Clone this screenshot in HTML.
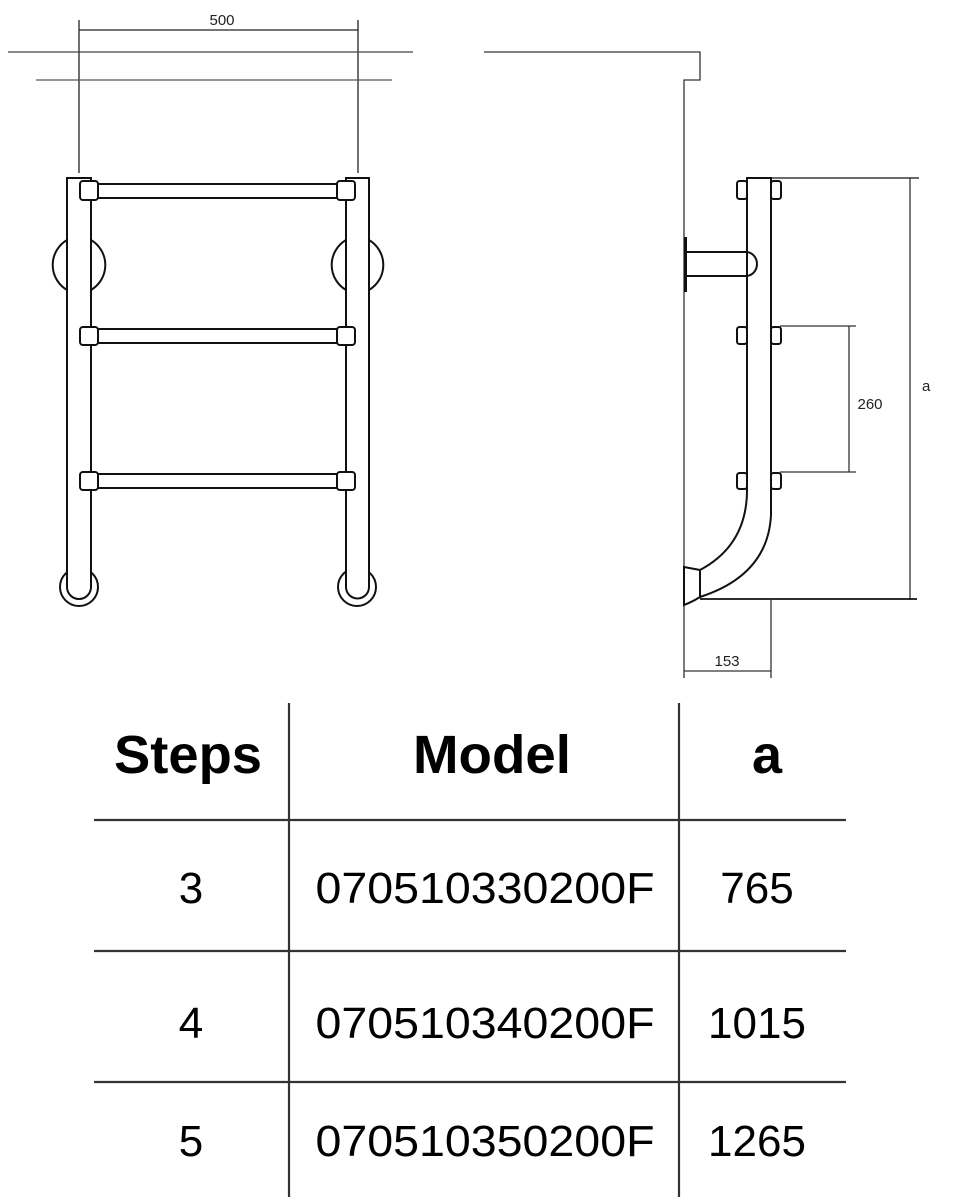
<!DOCTYPE html>
<html><head><meta charset="utf-8"><style>
html,body{margin:0;padding:0;background:#fff;}
svg{display:block;}
text{font-family:"Liberation Sans",sans-serif;}
</style></head><body>
<svg width="957" height="1200" viewBox="0 0 957 1200" xmlns="http://www.w3.org/2000/svg">
<g fill="none" stroke="#222" stroke-width="1.3">
<line x1="79" y1="30" x2="358" y2="30"/>
<line x1="79" y1="20" x2="79" y2="173"/>
<line x1="358" y1="20" x2="358" y2="173"/>
<line x1="8" y1="52" x2="413" y2="52" stroke="#444"/>
<line x1="36" y1="80" x2="392" y2="80" stroke="#555"/>
</g>
<text x="222" y="25" font-size="15" text-anchor="middle" fill="#222">500</text>
<g fill="none" stroke="#111" stroke-width="2">
<path d="M67 240 A29 29 0 0 0 67 290"/>
<path d="M91 240 A29 29 0 0 1 91 290"/>
<path d="M346 240 A29 29 0 0 0 346 290"/>
<path d="M369 240 A29 29 0 0 1 369 290"/>
<circle cx="79" cy="587" r="19"/>
<circle cx="357" cy="587" r="19"/>
<path d="M67 587 L67 178 L91 178 L91 587 A12 12 0 0 1 67 587" fill="#fff"/>
<path d="M346 587 L346 178 L369 178 L369 587 A11.5 11.5 0 0 1 346 587" fill="#fff"/>
<g fill="#fff">
<rect x="96" y="184" width="241" height="14"/>
<rect x="80" y="181" width="18" height="19" rx="3"/>
<rect x="337" y="181" width="18" height="19" rx="3"/>
<rect x="96" y="329" width="241" height="14"/>
<rect x="80" y="327" width="18" height="18" rx="3"/>
<rect x="337" y="327" width="18" height="18" rx="3"/>
<rect x="96" y="474" width="241" height="14"/>
<rect x="80" y="472" width="18" height="18" rx="3"/>
<rect x="337" y="472" width="18" height="18" rx="3"/>
</g>
</g>
<g fill="none" stroke="#333" stroke-width="1.3">
<polyline points="484,52 700,52 700,80 684,80 684,678"/>
<line x1="747" y1="178" x2="919" y2="178" stroke="#111"/>
<line x1="910" y1="178" x2="910" y2="600"/>
<line x1="700" y1="599" x2="917" y2="599" stroke="#111" stroke-width="1.8"/>
<line x1="780" y1="326" x2="856" y2="326"/>
<line x1="780" y1="472" x2="856" y2="472"/>
<line x1="849" y1="326" x2="849" y2="472"/>
<line x1="771" y1="599" x2="771" y2="678"/>
<line x1="684" y1="671" x2="771" y2="671"/>
</g>
<text x="922" y="391" font-size="15" fill="#222">a</text>
<text x="870" y="409" font-size="15" text-anchor="middle" fill="#222">260</text>
<text x="727" y="666" font-size="15" text-anchor="middle" fill="#222">153</text>
<g fill="none" stroke="#111" stroke-width="2">
<path d="M747 178 L771 178 L771 515 Q768 575 700 597 L700 570 Q747 545 747 490 Z" fill="#fff"/>
<path d="M684 567 L700 570 L700 597 Q692 602 684 605 Z" fill="#fff"/>
<rect x="737" y="181" width="10" height="18" rx="2.5"/>
<rect x="771" y="181" width="10" height="18" rx="2.5"/>
<rect x="737" y="327" width="10" height="17" rx="2.5"/>
<rect x="771" y="327" width="10" height="17" rx="2.5"/>
<rect x="737" y="473" width="10" height="16" rx="2.5"/>
<rect x="771" y="473" width="10" height="16" rx="2.5"/>
<path d="M687 252 L746 252 A11 12 0 0 1 746 276 L687 276"/>
<line x1="685.5" y1="237" x2="685.5" y2="292" stroke-width="3"/>
</g>
<g stroke="#333" stroke-width="2.2">
<line x1="289" y1="703" x2="289" y2="1197"/>
<line x1="679" y1="703" x2="679" y2="1197"/>
<line x1="94" y1="820" x2="846" y2="820"/>
<line x1="94" y1="951" x2="846" y2="951"/>
<line x1="94" y1="1082" x2="846" y2="1082"/>
</g>
<g fill="#000" text-anchor="middle">
<text x="188" y="773" font-size="54" font-weight="bold" textLength="148" lengthAdjust="spacingAndGlyphs">Steps</text>
<text x="492" y="773" font-size="54" font-weight="bold" textLength="158" lengthAdjust="spacingAndGlyphs">Model</text>
<text x="767" y="773" font-size="54" font-weight="bold">a</text>
<g font-size="44">
<text x="191" y="903">3</text>
<text x="485" y="903" textLength="339" lengthAdjust="spacingAndGlyphs">070510330200F</text>
<text x="757" y="903">765</text>
<text x="191" y="1038">4</text>
<text x="485" y="1038" textLength="339" lengthAdjust="spacingAndGlyphs">070510340200F</text>
<text x="757" y="1038">1015</text>
<text x="191" y="1156">5</text>
<text x="485" y="1156" textLength="339" lengthAdjust="spacingAndGlyphs">070510350200F</text>
<text x="757" y="1156">1265</text>
</g>
</g>
</svg>
</body></html>
